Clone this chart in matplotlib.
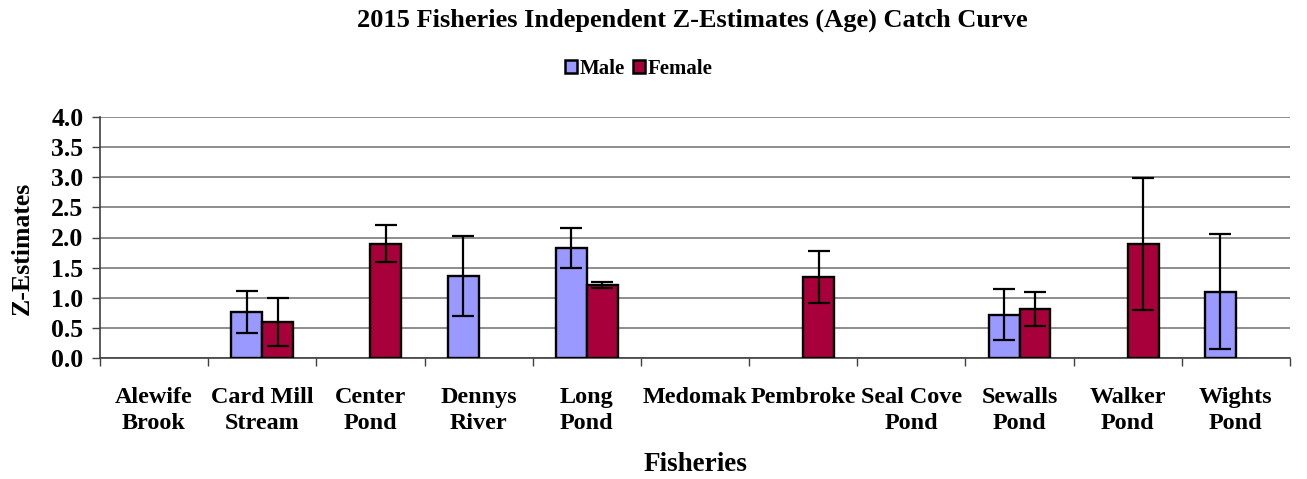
import matplotlib
matplotlib.use("Agg")
import matplotlib.pyplot as plt
import numpy as np
from matplotlib.patches import Patch

categories = ["Alewife\nBrook", "Card Mill\nStream", "Center\nPond", "Dennys\nRiver", "Long\nPond",
              "Medomak", "Pembroke", "Seal Cove\nPond", "Sewalls\nPond", "Walker\nPond", "Wights\nPond"]
male = [np.nan, 0.77, np.nan, 1.36, 1.83, np.nan, np.nan, np.nan, 0.72, np.nan, 1.10]
male_err = [np.nan, 0.35, np.nan, 0.66, 0.33, np.nan, np.nan, np.nan, 0.42, np.nan, 0.95]
female = [np.nan, 0.60, 1.90, np.nan, 1.21, np.nan, 1.34, np.nan, 0.81, 1.89, np.nan]
female_err = [np.nan, 0.40, 0.30, np.nan, 0.05, np.nan, 0.43, np.nan, 0.28, 1.09, np.nan]
yticks = [0.0, 0.5, 1.0, 1.5, 2.0, 2.5, 3.0, 3.5, 4.0]

W, H = 1307, 479
fig = plt.figure(figsize=(W / 100, H / 100), dpi=100)
plt.rcParams['font.family'] = ['Liberation Serif', 'DejaVu Serif']
ax = fig.add_axes([100 / W, (H - 358) / H, 1190 / W, (358 - 117) / H])

x = np.arange(len(categories))
bw = 0.286
c_male = '#9999FF'
c_female = '#A8003A'
ekw = dict(ecolor='black', elinewidth=1.6, capsize=8, capthick=1.6)

m = np.array(male)
f = np.array(female)
ax.bar(x - bw / 2, m, bw, color=c_male, edgecolor='black', linewidth=1.7, zorder=3)
ax.bar(x + bw / 2, f, bw, color=c_female, edgecolor='black', linewidth=1.7, zorder=3)
ax.errorbar(x - bw / 2, m, yerr=male_err, fmt='none', zorder=4, **ekw)
ax.errorbar(x + bw / 2, f, yerr=female_err, fmt='none', zorder=4, **ekw)

ax.set_xlim(-0.5, len(categories) - 0.5)
ax.set_ylim(0, 4.0)
ax.set_yticks(yticks)
ax.set_yticklabels([f"{v:.1f}" for v in yticks], fontsize=18.5, fontweight='bold')
ax.yaxis.grid(True, color='#7a7a7a', linewidth=1.2, zorder=0)
ax.set_axisbelow(True)

ax.set_xticks(x)
ax.set_xticklabels(categories, fontsize=17.4, fontweight='bold', linespacing=1.3)
ax.tick_params(axis='x', which='major', length=0, pad=21)
ax.set_xticks(np.arange(-0.5, len(categories) + 0.5, 1), minor=True)
ax.tick_params(axis='x', which='minor', length=6, width=1, color='#404040')
ax.tick_params(axis='y', length=6, width=1, color='#404040', pad=6)

for s in ['top', 'right']:
    ax.spines[s].set_visible(False)
for s in ['left', 'bottom']:
    ax.spines[s].set_color('#404040')
    ax.spines[s].set_linewidth(1.2)

ax.set_xlabel("Fisheries", fontsize=19.5, fontweight='bold', labelpad=13)
fig.text(22 / W, 1 - 248 / H, "Z-Estimates", rotation=90, ha='center', va='center',
         fontsize=18.5, fontweight='bold')

fig.text(0.5 * (355 + 1030) / W, 1 - 20 / H, "2015 Fisheries Independent Z-Estimates (Age) Catch Curve",
         ha='center', va='center', fontsize=19, fontweight='bold')

handles = [Patch(facecolor=c_male, edgecolor='black', linewidth=1.8, label='Male'),
           Patch(facecolor=c_female, edgecolor='black', linewidth=1.8, label='Female')]
fig.legend(handles=handles, loc='center', bbox_to_anchor=(639 / W, 1 - 69 / H), ncol=2, frameon=False,
           prop={'weight': 'bold', 'size': 15}, handlelength=0.55, handleheight=0.55,
           handletextpad=0.15, columnspacing=0.4, borderaxespad=0)

fig.savefig("out.png", dpi=100)
